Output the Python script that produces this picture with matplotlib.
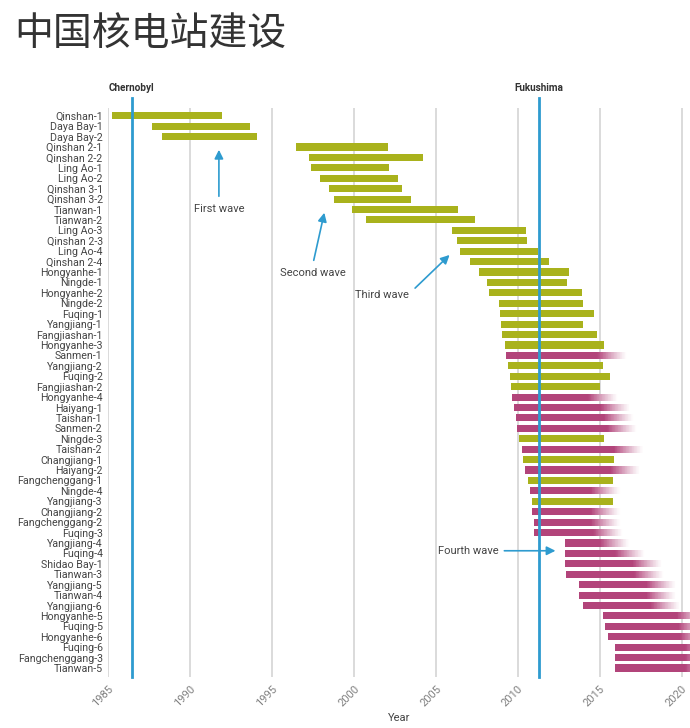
import numpy as np
import matplotlib
matplotlib.use("Agg")
import matplotlib.pyplot as plt
from matplotlib.colors import to_rgb

plants = ["Qinshan-1", "Daya Bay-1", "Daya Bay-2", "Qinshan 2-1", "Qinshan 2-2",
          "Ling Ao-1", "Ling Ao-2", "Qinshan 3-1", "Qinshan 3-2", "Tianwan-1",
          "Tianwan-2", "Ling Ao-3", "Qinshan 2-3", "Ling Ao-4", "Qinshan 2-4",
          "Hongyanhe-1", "Ningde-1", "Hongyanhe-2", "Ningde-2", "Fuqing-1",
          "Yangjiang-1", "Fangjiashan-1", "Hongyanhe-3", "Sanmen-1", "Yangjiang-2",
          "Fuqing-2", "Fangjiashan-2", "Hongyanhe-4", "Haiyang-1", "Taishan-1",
          "Sanmen-2", "Ningde-3", "Taishan-2", "Changjiang-1", "Haiyang-2",
          "Fangchenggang-1", "Ningde-4", "Yangjiang-3", "Changjiang-2",
          "Fangchenggang-2", "Fuqing-3", "Yangjiang-4", "Fuqing-4", "Shidao Bay-1",
          "Tianwan-3", "Yangjiang-5", "Tianwan-4", "Yangjiang-6", "Hongyanhe-5",
          "Fuqing-5", "Hongyanhe-6", "Fuqing-6", "Fangchenggang-3", "Tianwan-5"]

start = [1985.25, 1987.65, 1988.3, 1996.45, 1997.25, 1997.4, 1997.9, 1998.45,
         1998.75, 1999.85, 2000.75, 2005.95, 2006.3, 2006.45, 2007.1, 2007.65,
         2008.1, 2008.25, 2008.85, 2008.9, 2008.95, 2009.0, 2009.2, 2009.3,
         2009.4, 2009.5, 2009.55, 2009.65, 2009.75, 2009.9, 2009.95, 2010.05,
         2010.25, 2010.3, 2010.45, 2010.6, 2010.75, 2010.85, 2010.85, 2010.95,
         2011.0, 2012.85, 2012.85, 2012.9, 2012.95, 2013.7, 2013.75, 2013.95,
         2015.2, 2015.3, 2015.5, 2015.9, 2015.95, 2015.95]

end = [1991.95, 1993.65, 1994.1, 2002.1, 2004.2, 2002.15, 2002.7, 2002.9,
       2003.45, 2006.35, 2007.35, 2010.5, 2010.55, 2011.25, 2011.9, 2013.1,
       2013.0, 2013.9, 2014.0, 2014.65, 2014.0, 2014.8, 2015.25, 2016.65,
       2015.2, 2015.6, 2015.0, 2016.1, 2016.85, 2017.05, 2017.25, 2015.25,
       2017.65, 2015.85, 2017.45, 2015.8, 2016.25, 2015.8, 2016.25, 2016.25,
       2016.4, 2016.8, 2017.75, 2018.8, 2018.9, 2019.65, 2019.65, 2019.9,
       2021.5, 2021.6, 2021.7, 2022.0, 2022.0, 2022.0]

# True = still under construction (magenta, fading), False = in operation
building = [False] * 23 + [True, False, False, False, True, True, True, True, False,
            True, False, True, False, True, False, True, True, True] + [True] * 13

events = {"Chernobyl": 1986.43, "Fukushima": 2011.28}

# label, arrow tail (year, px), arrow head (year, px)
waves = [("First wave", (1991.75, 199), (1991.75, 147)),
         ("Second wave", (1997.5, 263), (1998.22, 210)),
         ("Third wave", (2003.6, 290), (2005.95, 253)),
         ("Fourth wave", (2009.0, 550.7), (2012.46, 550.7))]

green = "#a9b21c"
magenta = "#b2447a"
blue = "#2e9bcf"
fade = 1.8

W, H = 690, 728
fig = plt.figure(figsize=(W / 100, H / 100), dpi=100)
fig.text(14 / W, 1 - 34 / H, "中国核电站建设", fontsize=28, color="#333333",
         family=["Noto Sans CJK SC", "DejaVu Sans"], fontweight="light",
         va="center", ha="left")

ax_top, ax_bot = 108, 677
ax = fig.add_axes([108.3 / W, 1 - ax_bot / H, (W - 108.3) / W, (ax_bot - ax_top) / H])


def row(px):
    return (px - 115.7) / 10.42


for yr in range(1985, 2021, 5):
    ax.axvline(yr, color="#d4d4d4", lw=1.2, zorder=1)

h = 0.68
mag_rgb = np.array(to_rgb(magenta))
n = 40
for i, (s, e, b) in enumerate(zip(start, end, building)):
    if not b:
        ax.barh(i, e - s, left=s, height=h, color=green, zorder=2)
    else:
        fs = e - fade
        lefts = np.concatenate([[s], np.linspace(fs, e, n + 1)[:-1]])
        widths = np.concatenate([[fs - s], np.full(n, fade / n)])
        t = np.concatenate([[0.0], (np.arange(n) + 0.5) / n])
        a = (1 - t) ** 1.2
        cols = a[:, None] * mag_rgb + (1 - a[:, None])
        ax.barh(np.full(n + 1, i), widths + 0.01, left=lefts, height=h,
                color=cols, lw=0, antialiased=False, zorder=2)

ax.set_xlim(1985, 2020.5)
ax.set_ylim(53.86, -0.74)

for name, yr in events.items():
    ax.plot([yr, yr], [53.86, -1.7], color=blue, lw=2, zorder=3, clip_on=False)
    ax.text(yr, -2.65, name, ha="center", va="center", fontsize=7.2,
            fontweight="bold", color="#333333", family="Roboto")

arrow = dict(arrowstyle="-|>", color=blue, lw=1.2, mutation_scale=13)
for label, (tx, ty), (hx, hy) in waves:
    ax.annotate("", xy=(hx, row(hy)), xytext=(tx, row(ty)), arrowprops=arrow)
    if label == "Fourth wave":
        ax.text(tx - 0.2, row(ty), label, ha="right", va="center", fontsize=8,
                color="#444444", family="Roboto")
    elif label == "Third wave":
        ax.text(tx - 0.25, row(ty) + 0.45, label, ha="right", va="center",
                fontsize=8, color="#444444", family="Roboto")
    else:
        ax.text(tx, row(ty) + 0.95, label, ha="center", va="center", fontsize=8,
                color="#444444", family="Roboto")

ax.set_yticks(range(len(plants)))
ax.set_yticklabels(plants, fontsize=7.7, color="#444444", family="Roboto")
ax.set_xticks(range(1985, 2021, 5))
ax.set_xticklabels([str(y) for y in range(1985, 2021, 5)], rotation=45, ha="right",
                   rotation_mode="anchor", fontsize=8, color="#808080", family="Roboto")
ax.tick_params(length=0, pad=4)
ax.tick_params(axis="x", pad=5)
ax.set_xlabel("Year", fontsize=8, color="#444444", family="Roboto", labelpad=3)
for sp in ax.spines.values():
    sp.set_visible(False)

fig.savefig("out.png", dpi=100)
